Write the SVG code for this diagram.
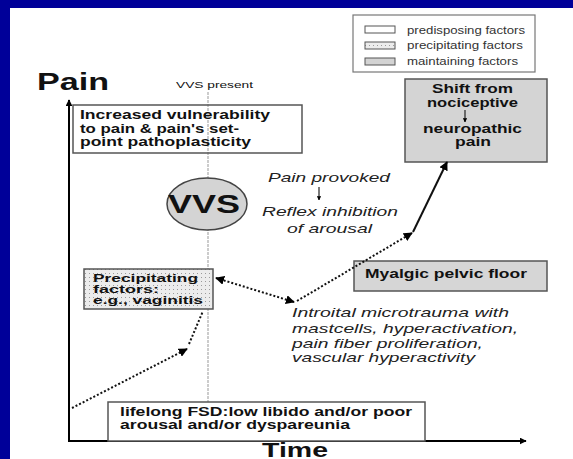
<svg xmlns="http://www.w3.org/2000/svg" width="573" height="459" viewBox="0 0 573 459">
<defs>
<pattern id="dots" width="4" height="4" patternUnits="userSpaceOnUse">
<rect width="4" height="4" fill="#ececec"/>
<rect x="1" y="1" width="1" height="1" fill="#9a9a9a"/>
</pattern>
<marker id="ah" viewBox="0 0 10 10" refX="9" refY="5" markerWidth="4.5" markerHeight="4.5" orient="auto-start-reverse">
<path d="M0,0 L10,5 L0,10 z" fill="#000"/>
</marker>
<marker id="ax" viewBox="0 0 10 10" refX="9" refY="5" markerWidth="3.5" markerHeight="3.5" orient="auto">
<path d="M0,0 L10,5 L0,10 z" fill="#000"/>
</marker>
</defs>
<style>
text{font-family:"Liberation Sans",Arial,sans-serif;fill:#111}
.b{font-weight:bold}
.it{font-style:italic;font-size:13px;fill:#222}
.box{stroke:#555;stroke-width:1.5}
.leg{font-size:10px;fill:#333}
.dot{fill:none;stroke:#111;stroke-width:2;stroke-dasharray:2 2}
</style>
<rect width="573" height="459" fill="#000099"/>
<rect x="10" y="8" width="563" height="451" fill="#fff"/>

<g id="legend">
<rect x="353" y="15" width="182" height="57" fill="#fff" stroke="#777" stroke-width="1.2"/>
<rect x="365" y="26" width="30" height="7" fill="#fff" stroke="#555"/>
<rect x="365" y="42" width="30" height="7" fill="url(#dots)" stroke="#555"/>
<rect x="365" y="58" width="30" height="7" fill="#d3d3d3" stroke="#555"/>
<text class="leg" x="407" y="34" textLength="118" lengthAdjust="spacingAndGlyphs">predisposing factors</text>
<text class="leg" x="407" y="49" textLength="116" lengthAdjust="spacingAndGlyphs">precipitating factors</text>
<text class="leg" x="407" y="65" textLength="111" lengthAdjust="spacingAndGlyphs">maintaining factors</text>
</g>

<g id="axes">
<line x1="208" y1="92" x2="208" y2="441" stroke="#999" stroke-width="1" stroke-dasharray="3 1"/>
<line x1="69" y1="441" x2="69" y2="100" stroke="#000" stroke-width="2" marker-end="url(#ax)"/>
<line x1="68" y1="441" x2="526" y2="441" stroke="#000" stroke-width="2" marker-end="url(#ax)"/>
<text class="b" x="37" y="90" font-size="23" textLength="72" lengthAdjust="spacingAndGlyphs">Pain</text>
<text class="b" x="262" y="457" font-size="20" textLength="66" lengthAdjust="spacingAndGlyphs">Time</text>
<text x="176" y="88" font-size="9.5" fill="#222" textLength="77" lengthAdjust="spacingAndGlyphs">VVS present</text>
</g>

<g id="vulnerability">
<rect class="box" x="73" y="105" width="229" height="48" fill="none"/>
<text class="b" font-size="12" x="80" y="119" textLength="190" lengthAdjust="spacingAndGlyphs">Increased vulnerability</text>
<text class="b" font-size="12" x="80" y="133" textLength="159" lengthAdjust="spacingAndGlyphs">to pain &amp; pain's set-</text>
<text class="b" font-size="12" x="80" y="146" textLength="171" lengthAdjust="spacingAndGlyphs">point pathoplasticity</text>
</g>

<g id="vvs">
<ellipse cx="207" cy="204" rx="40" ry="26" fill="#d4d4d4" stroke="#444" stroke-width="1.5"/>
<text class="b" x="168" y="213" font-size="25" textLength="72" lengthAdjust="spacingAndGlyphs">VVS</text>
</g>

<g id="pain-provoked">
<text class="it" x="268" y="182" textLength="122" lengthAdjust="spacingAndGlyphs">Pain provoked</text>
<line x1="319" y1="187" x2="319" y2="200" stroke="#222" stroke-width="1.2" marker-end="url(#ax)"/>
<text class="it" x="262" y="216" textLength="136" lengthAdjust="spacingAndGlyphs">Reflex inhibition</text>
<text class="it" x="287" y="233" textLength="85" lengthAdjust="spacingAndGlyphs">of arousal</text>
</g>

<g id="shift">
<rect class="box" x="405" y="79" width="142" height="83" fill="#d4d4d4"/>
<text class="b" font-size="12.5" x="432" y="93" textLength="81" lengthAdjust="spacingAndGlyphs">Shift from</text>
<text class="b" font-size="12.5" x="427" y="107" textLength="91" lengthAdjust="spacingAndGlyphs">nociceptive</text>
<line x1="465" y1="110" x2="465" y2="122" stroke="#222" stroke-width="1.2" marker-end="url(#ax)"/>
<text class="b" font-size="12.5" x="423" y="133" textLength="99" lengthAdjust="spacingAndGlyphs">neuropathic</text>
<text class="b" font-size="12.5" x="455" y="146" textLength="36" lengthAdjust="spacingAndGlyphs">pain</text>
</g>

<g id="myalgic">
<rect class="box" x="354" y="261" width="193" height="30" fill="#d6d6d6"/>
<text class="b" font-size="12.5" x="365" y="278" textLength="162" lengthAdjust="spacingAndGlyphs">Myalgic pelvic floor</text>
</g>

<g id="microtrauma">
<text class="it" x="292" y="317" textLength="217" lengthAdjust="spacingAndGlyphs">Introital microtrauma with</text>
<text class="it" x="292" y="333" textLength="226" lengthAdjust="spacingAndGlyphs">mastcells, hyperactivation,</text>
<text class="it" x="292" y="348" textLength="191" lengthAdjust="spacingAndGlyphs">pain fiber proliferation,</text>
<text class="it" x="292" y="362" textLength="183" lengthAdjust="spacingAndGlyphs">vascular hyperactivity</text>
</g>

<g id="precipitating">
<rect class="box" x="84" y="269" width="129" height="40" fill="url(#dots)"/>
<text class="b" font-size="11" x="93" y="282" textLength="105" lengthAdjust="spacingAndGlyphs">Precipitating</text>
<text class="b" font-size="11" x="93" y="293" textLength="66" lengthAdjust="spacingAndGlyphs">factors:</text>
<text class="b" font-size="11" x="93" y="304" textLength="110" lengthAdjust="spacingAndGlyphs">e.g., vaginitis</text>
</g>

<g id="lifelong">
<rect class="box" x="108" y="402" width="317" height="39" fill="#fff"/>
<text class="b" font-size="12.5" x="120" y="416" textLength="292" lengthAdjust="spacingAndGlyphs">lifelong FSD:low libido and/or poor</text>
<text class="b" font-size="12.5" x="120" y="429" textLength="230" lengthAdjust="spacingAndGlyphs">arousal and/or dyspareunia</text>
</g>

<g id="connectors">
<path class="dot" d="M72,408 L187,349" marker-end="url(#ah)"/>
<path class="dot" d="M189,344 L203,311"/>
<path class="dot" d="M216,278 L294,302" marker-start="url(#ah)" marker-end="url(#ah)"/>
<path class="dot" d="M297,301 L412,233" marker-end="url(#ah)"/>
<path d="M413,232 L447,162" fill="none" stroke="#111" stroke-width="2" marker-end="url(#ah)"/>
</g>
</svg>
